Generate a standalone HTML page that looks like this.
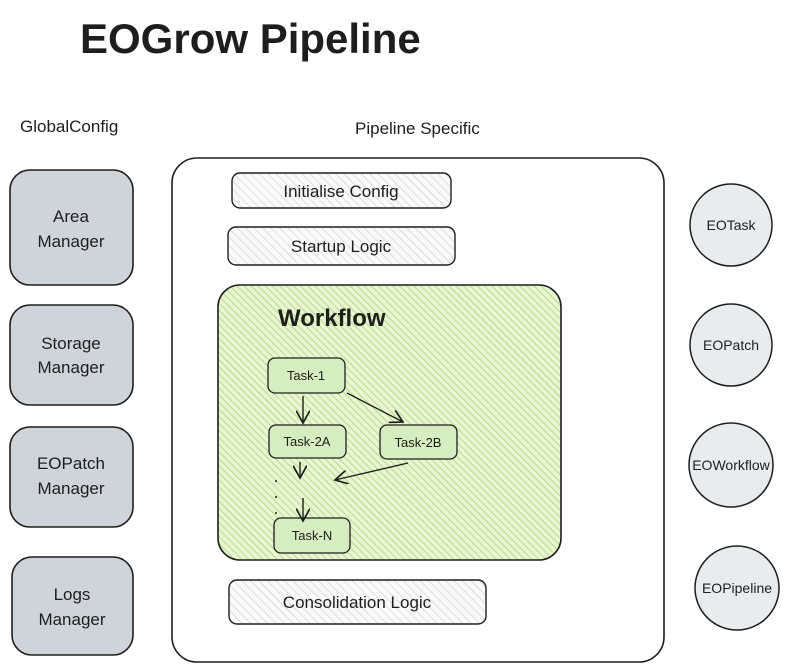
<!DOCTYPE html>
<html><head><meta charset="utf-8"><style>
html,body{margin:0;padding:0;background:#fff;}
svg{display:block;}
text{font-family:"Liberation Sans",sans-serif;fill:#1e1e1e;}
</style></head><body>
<svg width="805" height="672" viewBox="0 0 805 672" xmlns="http://www.w3.org/2000/svg">
<defs>
<pattern id="gh" width="6" height="6" patternUnits="userSpaceOnUse" patternTransform="rotate(-45)">
<rect width="6" height="6" fill="#fafafa"/><line x1="0" y1="0" x2="0" y2="6" stroke="#ced4da" stroke-width="1.5"/></pattern>
<pattern id="gr" width="5" height="5" patternUnits="userSpaceOnUse" patternTransform="rotate(-45)">
<rect width="5" height="5" fill="#e8f6d4"/><line x1="0" y1="0" x2="0" y2="5" stroke="#a9d86e" stroke-width="1.6"/></pattern>
<marker id="ah" markerWidth="10" markerHeight="10" refX="9" refY="5" orient="auto"><path d="M0,0 L9,5 L0,10" fill="none" stroke="#1e1e1e" stroke-width="1.2"/></marker>
</defs>
<text x="80" y="53" font-size="42" font-weight="bold">EOGrow Pipeline</text>
<text x="20" y="132" font-size="17">GlobalConfig</text>
<text x="355" y="134" font-size="17">Pipeline Specific</text>
<g stroke="#1e1e1e" stroke-width="1.6" fill="#ced4da">
<rect x="10" y="170" width="123" height="115" rx="20"/>
<rect x="10" y="305" width="123" height="100" rx="20"/>
<rect x="10" y="427" width="123" height="100" rx="20"/>
<rect x="12" y="557" width="121" height="98" rx="20"/>
</g>
<g font-size="17" text-anchor="middle">
<text x="71" y="222">Area</text><text x="71" y="247">Manager</text>
<text x="71" y="349">Storage</text><text x="71" y="373">Manager</text>
<text x="71" y="469">EOPatch</text><text x="71" y="494">Manager</text>
<text x="72" y="600">Logs</text><text x="72" y="625">Manager</text>
</g>
<rect x="172" y="158" width="492" height="504" rx="25" fill="none" stroke="#1e1e1e" stroke-width="1.6"/>
<g stroke="#1e1e1e" stroke-width="1.4" fill="url(#gh)">
<rect x="232" y="173" width="219" height="35" rx="8"/>
<rect x="228" y="227" width="227" height="38" rx="8"/>
<rect x="229" y="580" width="257" height="44" rx="8"/>
</g>
<g font-size="17" text-anchor="middle">
<text x="341" y="197">Initialise Config</text>
<text x="341" y="252">Startup Logic</text>
<text x="357" y="608">Consolidation Logic</text>
</g>
<rect x="218" y="285" width="343" height="275" rx="22" fill="url(#gr)" stroke="#1e1e1e" stroke-width="1.6"/>
<text x="278" y="326" font-size="24" font-weight="bold">Workflow</text>
<g stroke="#1e1e1e" stroke-width="1.3" fill="#d6eebf">
<rect x="268" y="358" width="77" height="35" rx="7"/>
<rect x="269" y="425" width="77" height="33" rx="7"/>
<rect x="380" y="425" width="77" height="34" rx="7"/>
<rect x="274" y="518" width="76" height="35" rx="7"/>
</g>
<g font-size="13" text-anchor="middle">
<text x="306" y="380">Task-1</text>
<text x="307" y="446">Task-2A</text>
<text x="418" y="447">Task-2B</text>
<text x="312" y="540">Task-N</text>
</g>
<g stroke="#1e1e1e" stroke-width="1.4" fill="none" marker-end="url(#ah)">
<line x1="303" y1="396" x2="303" y2="423"/>
<line x1="347" y1="393" x2="403" y2="422"/>
<line x1="300" y1="462" x2="300" y2="478"/>
<line x1="408" y1="463" x2="335" y2="480"/>
<line x1="303" y1="498" x2="303" y2="521"/>
</g>
<g fill="#1e1e1e"><circle cx="276" cy="481" r="1"/><circle cx="276" cy="497" r="1"/><circle cx="276" cy="513" r="1"/></g>
<g stroke="#1e1e1e" stroke-width="1.5" fill="#e9ecef">
<circle cx="731" cy="225" r="41"/>
<circle cx="731" cy="345" r="41"/>
<circle cx="731" cy="465" r="42"/>
<circle cx="737" cy="588" r="42"/>
</g>
<g font-size="14" text-anchor="middle">
<text x="731" y="230">EOTask</text>
<text x="731" y="350">EOPatch</text>
<text x="731" y="470">EOWorkflow</text>
<text x="737" y="593">EOPipeline</text>
</g>
</svg>
</body></html>
